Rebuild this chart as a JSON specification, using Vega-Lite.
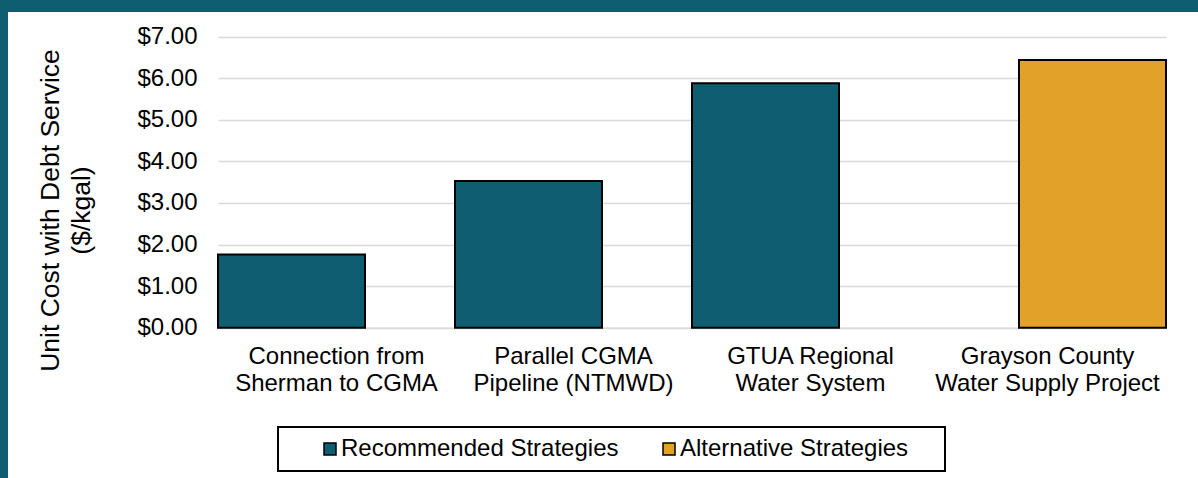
{
  "$schema": "https://vega.github.io/schema/vega-lite/v6.json",
  "width": 1190,
  "height": 466,
  "autosize": "none",
  "padding": {"left": 8, "top": 12, "right": 0, "bottom": 0},
  "background": "#0E5D71",
  "config": {
    "view": {"fill": "white", "stroke": null},
    "font": "Liberation Sans",
    "legend": {"strokeWidth": 2}
  },
  "data": {
    "values": [
      {"project": "Connection from Sherman to CGMA", "strategy": "Recommended Strategies", "cost": 1.76},
      {"project": "Parallel CGMA Pipeline (NTMWD)", "strategy": "Recommended Strategies", "cost": 3.53},
      {"project": "GTUA Regional Water System", "strategy": "Recommended Strategies", "cost": 5.88},
      {"project": "Grayson County Water Supply Project", "strategy": "Alternative Strategies", "cost": 6.44}
    ]
  },
  "mark": {"type": "bar", "stroke": "black", "strokeWidth": 2, "width": 147},
  "encoding": {
    "x": {
      "field": "project",
      "type": "nominal",
      "sort": null,
      "scale": {"range": [210, 1158], "paddingInner": 0, "paddingOuter": 0},
      "axis": {
        "title": null,
        "orient": "bottom",
        "offset": -150.3,
        "labelAngle": 0,
        "labelFontSize": 24,
        "labelColor": "#000000",
        "labelPadding": 17,
        "labelLineHeight": 27,
        "labelLimit": 400,
        "ticks": false,
        "tickSize": 0,
        "domainColor": "#D9D9D9",
        "domainWidth": 1.5,
        "labelExpr": "datum.value == 'Connection from Sherman to CGMA' ? ['Connection from', 'Sherman to CGMA'] : datum.value == 'Parallel CGMA Pipeline (NTMWD)' ? ['Parallel CGMA', 'Pipeline (NTMWD)'] : datum.value == 'GTUA Regional Water System' ? ['GTUA Regional', 'Water System'] : ['Grayson County', 'Water Supply Project']"
      }
    },
    "xOffset": {
      "field": "strategy",
      "type": "nominal",
      "sort": ["Recommended Strategies", "Alternative Strategies"],
      "scale": {"domain": ["Recommended Strategies", "Alternative Strategies"], "paddingInner": 1, "paddingOuter": 0.8167}
    },
    "y": {
      "field": "cost",
      "type": "quantitative",
      "scale": {"domain": [0, 7], "range": [315.7, 24.7], "nice": false},
      "axis": {
        "title": ["Unit Cost with Debt Service", "($/kgal)"],
        "titleFontSize": 26.5,
        "titleFontWeight": "normal",
        "titleColor": "#000000",
        "titleLineHeight": 31,
        "titleX": -168,
        "titleY": 198,
        "titleAngle": -90,
        "titleAlign": "center",
        "titleBaseline": "middle",
        "offset": -210,
        "values": [0, 1, 2, 3, 4, 5, 6, 7],
        "format": "$.2f",
        "labelFontSize": 24,
        "labelColor": "#000000",
        "labelPadding": 21,
        "ticks": false,
        "tickSize": 0,
        "domain": false,
        "grid": true,
        "gridColor": "#D9D9D9",
        "gridWidth": 1.5
      }
    },
    "color": {
      "field": "strategy",
      "type": "nominal",
      "sort": ["Recommended Strategies", "Alternative Strategies"],
      "scale": {"domain": ["Recommended Strategies", "Alternative Strategies"], "range": ["#0E5D71", "#E2A129"]},
      "legend": {
        "title": " ",
        "titleOrient": "right",
        "titlePadding": 27,
        "titleFontSize": 24,
        "orient": "none",
        "legendX": 270,
        "legendY": 415,
        "direction": "horizontal",
        "columns": 2,
        "columnPadding": 8,
        "padding": 10,
        "strokeColor": "black",
        "fillColor": "white",
        "symbolType": "square",
        "symbolSize": 144,
        "symbolStrokeColor": "black",
        "symbolStrokeWidth": 1.5,
        "symbolOpacity": 1,
        "symbolOffset": 30,
        "labelOffset": -1,
        "labelFontSize": 24,
        "labelColor": "#000000",
        "labelLimit": 400
      }
    }
  }
}
